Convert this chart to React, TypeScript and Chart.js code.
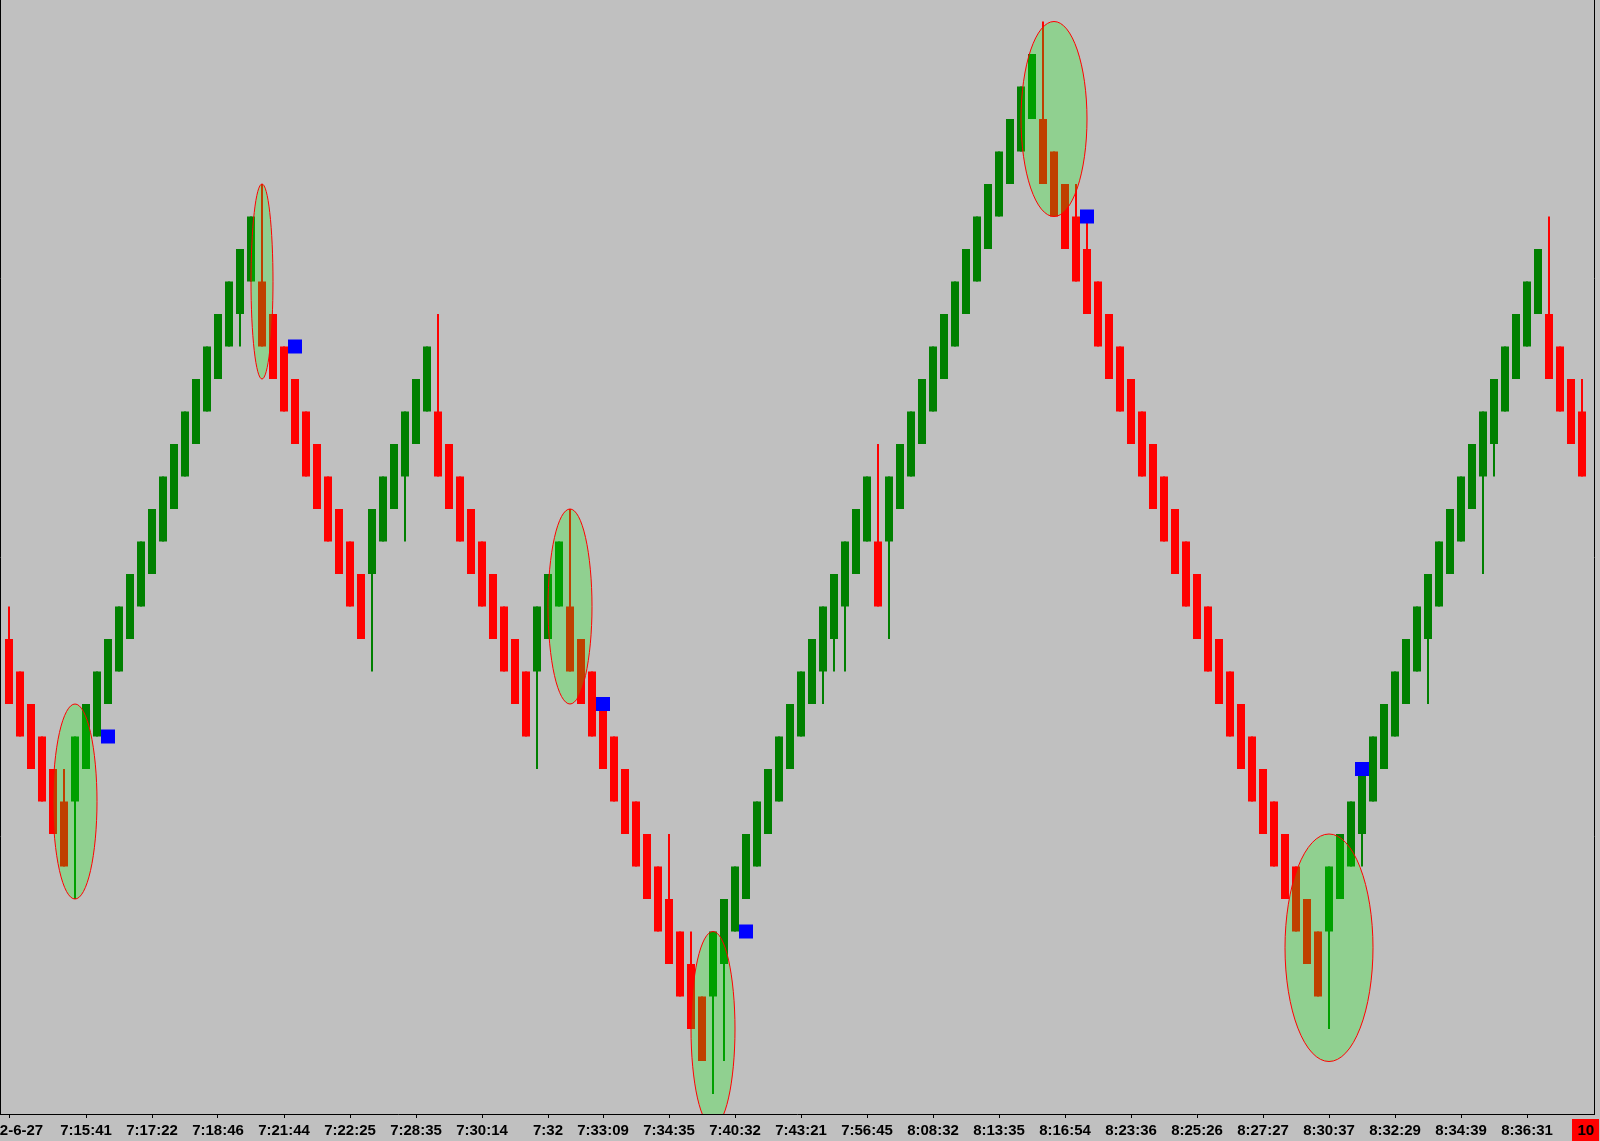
import React, { useEffect, useRef } from 'react';
import { Chart, registerables } from 'chart.js';

Chart.register(...registerables);

// Renko bricks (price in brick units), one entry per bar
const opens = [
  13, 12, 11, 10, 9, 8,
  8, 9, 10, 11, 12, 13, 14, 15, 16, 17, 18, 19, 20, 21, 22, 23, 24,
  24, 23, 22, 21, 20, 19, 18, 17, 16, 15,
  15, 16, 17, 18, 19, 20,
  20, 19, 18, 17, 16, 15, 14, 13, 12,
  12, 13, 14,
  14, 13, 12, 11, 10, 9, 8, 7, 6, 5, 4, 3, 2,
  2, 3, 4, 5, 6, 7, 8, 9, 10, 11, 12, 13, 14, 15, 16,
  16,
  16, 17, 18, 19, 20, 21, 22, 23, 24, 25, 26, 27, 28, 29,
  29, 28, 27, 26, 25, 24, 23, 22, 21, 20, 19, 18, 17, 16, 15, 14, 13, 12, 11, 10, 9, 8, 7, 6, 5, 4,
  4, 5, 6, 7, 8, 9, 10, 11, 12, 13, 14, 15, 16, 17, 18, 19, 20, 21, 22, 23,
  23, 22, 21, 20,
];

const closes = [
  11, 10, 9, 8, 7, 6,
  10, 11, 12, 13, 14, 15, 16, 17, 18, 19, 20, 21, 22, 23, 24, 25, 26,
  22, 21, 20, 19, 18, 17, 16, 15, 14, 13,
  17, 18, 19, 20, 21, 22,
  18, 17, 16, 15, 14, 13, 12, 11, 10,
  14, 15, 16,
  12, 11, 10, 9, 8, 7, 6, 5, 4, 3, 2, 1, 0,
  4, 5, 6, 7, 8, 9, 10, 11, 12, 13, 14, 15, 16, 17, 18,
  14,
  18, 19, 20, 21, 22, 23, 24, 25, 26, 27, 28, 29, 30, 31,
  27, 26, 25, 24, 23, 22, 21, 20, 19, 18, 17, 16, 15, 14, 13, 12, 11, 10, 9, 8, 7, 6, 5, 4, 3, 2,
  6, 7, 8, 9, 10, 11, 12, 13, 14, 15, 16, 17, 18, 19, 20, 21, 22, 23, 24, 25,
  21, 20, 19, 18,
];

const highs = [
  14, 12, 11, 10, 9, 9,
  10, 11, 12, 13, 14, 15, 16, 17, 18, 19, 20, 21, 22, 23, 24, 25, 26,
  27, 23, 22, 21, 20, 19, 18, 17, 16, 15,
  17, 18, 19, 20, 21, 22,
  23, 19, 18, 17, 16, 15, 14, 13, 12,
  14, 15, 16,
  17, 13, 12, 11, 10, 9, 8, 7, 6, 7, 4, 4, 2,
  4, 5, 6, 7, 8, 9, 10, 11, 12, 13, 14, 15, 16, 17, 18,
  19,
  18, 19, 20, 21, 22, 23, 24, 25, 26, 27, 28, 29, 30, 31,
  32, 28, 27, 27, 26, 24, 23, 22, 21, 20, 19, 18, 17, 16, 15, 14, 13, 12, 11, 10, 9, 8, 7, 6, 5, 4,
  6, 7, 8, 9, 10, 11, 12, 13, 14, 15, 16, 17, 18, 19, 20, 21, 22, 23, 24, 25,
  26, 22, 21, 21,
];

const lows = [
  11, 10, 9, 8, 7, 6,
  5, 9, 10, 11, 12, 13, 14, 15, 16, 17, 18, 19, 20, 21, 22, 22, 24,
  22, 21, 20, 19, 18, 17, 16, 15, 14, 13,
  12, 16, 17, 16, 19, 20,
  18, 17, 16, 15, 14, 13, 12, 11, 10,
  9, 13, 14,
  12, 11, 10, 9, 8, 7, 6, 5, 4, 3, 2, 1, 0,
  -1, 0, 4, 5, 6, 7, 8, 9, 10, 11, 11, 12, 12, 15, 16,
  14,
  13, 17, 18, 19, 20, 21, 22, 23, 24, 25, 26, 27, 28, 29,
  27, 26, 25, 24, 23, 22, 21, 20, 19, 18, 17, 16, 15, 14, 13, 12, 11, 10, 9, 8, 7, 6, 5, 4, 3, 2,
  1, 5, 6, 6, 8, 9, 10, 11, 12, 11, 14, 15, 16, 17, 15, 18, 20, 21, 22, 23,
  21, 20, 19, 18,
];

// time-axis labels and the bar they sit under
const tickIndex = [0, 7, 13, 19, 25, 31, 37, 43, 49, 54, 60, 66, 72, 78, 84, 90, 96, 102, 108, 114, 120, 126, 132, 138];
const tickLabels = [
  '2022-6-27', '7:15:41', '7:17:22', '7:18:46', '7:21:44', '7:22:25', '7:28:35', '7:30:14',
  '7:32', '7:33:09', '7:34:35', '7:40:32', '7:43:21', '7:56:45', '8:08:32', '8:13:35',
  '8:16:54', '8:23:36', '8:25:26', '8:27:27', '8:30:37', '8:32:29', '8:34:39', '8:36:31',
];

// blue signal markers
const markerIndex = [9, 26, 54, 67, 98, 123];
const markerPrice = [10, 22, 11, 4, 26, 9];

// highlighted reversal zones (centre bar, centre price, half-width in bars, half-height in bricks)
const zoneIndex = [6, 23, 51, 64, 95, 120];
const zonePrice = [8, 24, 14, 1, 29, 3.5];
const zoneHalfBars = [2, 1, 2, 2, 3, 4];
const zoneHalfPrice = [3, 3, 3, 3, 3, 3.5];

const brickLabel = '10';

const UP = '#008000';
const DOWN = '#FF0000';
const FONT = '"Liberation Sans", Arial, sans-serif';

const zonePlugin = {
  id: 'zones',
  afterDatasetDraw(chart: any, args: any) {
    if (args.index !== 1) return;
    const { ctx, chartArea, scales } = chart;
    const x = scales.x;
    const y = scales.y;
    ctx.save();
    ctx.beginPath();
    ctx.rect(chartArea.left, chartArea.top, chartArea.right - chartArea.left, chartArea.bottom - chartArea.top);
    ctx.clip();
    zoneIndex.forEach((ci, k) => {
      const cx = x.getPixelForValue(ci);
      const cy = y.getPixelForValue(zonePrice[k]);
      const rx = Math.abs(x.getPixelForValue(ci + zoneHalfBars[k]) - cx);
      const ry = Math.abs(y.getPixelForValue(zonePrice[k] + zoneHalfPrice[k]) - cy);
      ctx.beginPath();
      ctx.ellipse(cx, cy, rx, ry, 0, 0, Math.PI * 2);
      ctx.fillStyle = 'rgba(0,255,0,0.25)';
      ctx.fill();
      ctx.lineWidth = 1;
      ctx.strokeStyle = '#FF0000';
      ctx.stroke();
    });
    ctx.restore();
  },
};

export default function App() {
  const ref = useRef<HTMLCanvasElement>(null);

  useEffect(() => {
    document.body.style.margin = '0';
    document.body.style.overflow = 'hidden';
    const colors = closes.map((c, i) => (c > opens[i] ? UP : DOWN));
    const xMin = -9 / 11;
    const xMax = xMin + 1594 / 11;
    const yMin = (1061.5 - 1114) / 32.5;
    const yMax = 1061.5 / 32.5;

    const chart = new Chart(ref.current as HTMLCanvasElement, {
      type: 'bar',
      data: {
        datasets: [
          {
            type: 'bar',
            label: 'wicks',
            data: lows.map((l, i) => ({ x: i, y: [l, highs[i]] })) as any,
            backgroundColor: colors,
            borderWidth: 0,
            barThickness: 2,
            grouped: false,
            inflateAmount: 0,
            order: 3,
          } as any,
          {
            type: 'bar',
            label: 'bricks',
            data: opens.map((o, i) => ({ x: i, y: [o, closes[i]] })) as any,
            backgroundColor: colors,
            borderWidth: 0,
            barThickness: 8,
            grouped: false,
            inflateAmount: 0,
            order: 2,
          } as any,
          {
            type: 'scatter',
            label: 'signals',
            data: markerIndex.map((m, k) => ({ x: m, y: markerPrice[k] })),
            pointStyle: 'rect',
            pointRadius: 9.9,
            pointHoverRadius: 9.9,
            pointBackgroundColor: '#0000FF',
            pointBorderWidth: 0,
            order: 1,
          } as any,
        ],
      },
      options: {
        animation: false,
        responsive: false,
        devicePixelRatio: 1,
        events: [],
        layout: { padding: 0, autoPadding: false },
        plugins: { legend: { display: false }, tooltip: { enabled: false } },
        scales: {
          x: {
            type: 'linear',
            position: 'bottom',
            offset: false,
            min: xMin,
            max: xMax,
            afterBuildTicks: (s: any) => {
              s.ticks = tickIndex.map((v) => ({ value: v }));
            },
            afterFit: (s: any) => {
              s.paddingLeft = 0;
              s.paddingRight = 0;
              s.height = 27;
            },
            ticks: {
              autoSkip: false,
              maxRotation: 0,
              minRotation: 0,
              padding: 4,
              color: '#000',
              font: { family: FONT, size: 15, weight: 'bold' },
              callback: (_v: any, i: number) => tickLabels[i],
            },
            grid: {
              display: true,
              offset: false,
              drawOnChartArea: false,
              drawTicks: true,
              tickLength: 4,
              tickColor: '#000',
              tickWidth: 1,
            },
            border: { display: true, color: '#000', width: 1 },
          } as any,
          y: {
            type: 'linear',
            position: 'left',
            min: yMin,
            max: yMax,
            ticks: { display: false },
            grid: { display: true, drawOnChartArea: false, drawTicks: false },
            border: { display: true, color: '#000', width: 1 },
            afterFit: (s: any) => {
              s.width = 0;
            },
          } as any,
          y2: {
            type: 'linear',
            position: 'right',
            min: yMin,
            max: yMax,
            ticks: { display: false },
            grid: { display: true, drawOnChartArea: false, drawTicks: false },
            border: { display: true, color: '#000', width: 1 },
            afterFit: (s: any) => {
              s.width = 6;
            },
          } as any,
        },
      },
      plugins: [zonePlugin],
    });
    return () => chart.destroy();
  }, []);

  return (
    <div style={{ position: 'relative', width: 1600, height: 1141, background: '#C0C0C0', overflow: 'hidden' }}>
      <canvas ref={ref} width={1600} height={1141} style={{ display: 'block', width: 1600, height: 1141 }} />
      <div
        style={{
          position: 'absolute',
          left: 1572,
          top: 1119,
          width: 27,
          height: 22,
          background: '#FF0000',
          color: '#000',
          font: `bold 15px ${FONT}`,
          lineHeight: '22px',
          textAlign: 'center',
        }}
      >
        {brickLabel}
      </div>
    </div>
  );
}
